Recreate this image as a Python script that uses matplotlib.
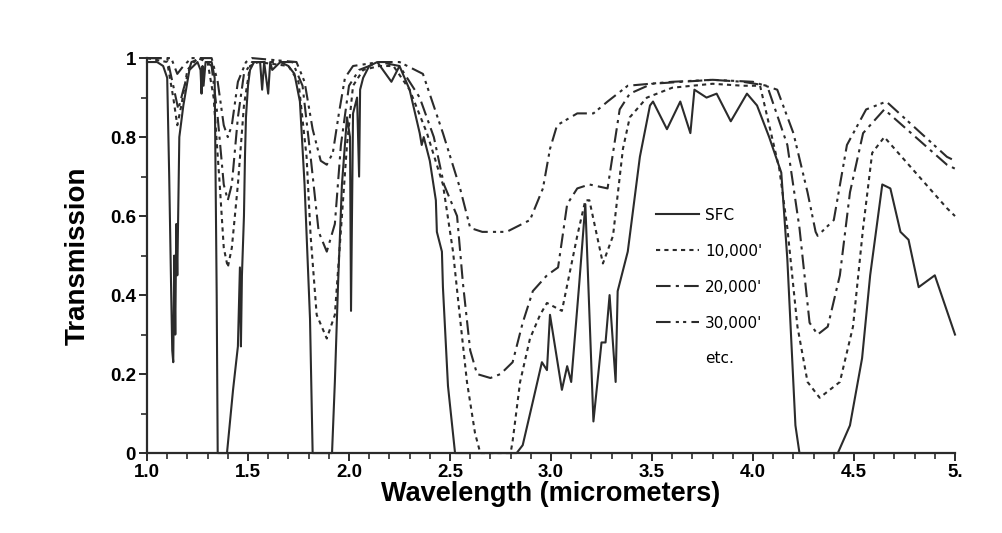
import matplotlib
matplotlib.use("Agg")
import matplotlib.pyplot as plt
from matplotlib.lines import Line2D
from matplotlib.ticker import MultipleLocator, FixedLocator, FixedFormatter

# wavelength (um) / transmission
sfc_x = [1.00, 1.05, 1.08, 1.10, 1.11, 1.12, 1.125, 1.13, 1.135, 1.14, 1.145, 1.15, 1.16, 1.18,
         1.21, 1.25, 1.265, 1.27, 1.275, 1.28, 1.29, 1.32, 1.335, 1.345, 1.35, 1.396, 1.426, 1.45,
         1.46, 1.465, 1.47, 1.48, 1.485, 1.49, 1.50, 1.51, 1.53, 1.56, 1.57, 1.58, 1.60, 1.61, 1.62,
         1.66, 1.70, 1.73, 1.757, 1.78, 1.807, 1.82, 1.916, 1.93, 1.946, 1.965, 1.99, 2.005, 2.01,
         2.02, 2.04, 2.05, 2.055, 2.07, 2.10, 2.14, 2.21, 2.25, 2.30, 2.35, 2.36, 2.37, 2.40, 2.43,
         2.435, 2.46, 2.465, 2.49, 2.525, 2.83, 2.86, 2.91, 2.955, 2.98, 2.995, 3.054, 3.08, 3.10,
         3.14, 3.17, 3.21, 3.25, 3.27, 3.29, 3.32, 3.33, 3.38, 3.44, 3.49, 3.505, 3.574, 3.64, 3.69,
         3.71, 3.77, 3.82, 3.89, 3.97, 4.02, 4.08, 4.14, 4.17, 4.21, 4.23, 4.42, 4.48, 4.54, 4.58,
         4.64, 4.68, 4.73, 4.77, 4.82, 4.90, 5.00]
sfc_y = [0.99, 0.99, 0.98, 0.95, 0.70, 0.40, 0.26, 0.23, 0.50, 0.30, 0.58, 0.45, 0.80, 0.88,
         0.97, 0.99, 0.97, 0.91, 0.98, 0.93, 0.99, 0.99, 0.95, 0.40, 0.00, 0.00, 0.16, 0.27,
         0.47, 0.27, 0.45, 0.60, 0.75, 0.85, 0.93, 0.97, 0.99, 0.99, 0.92, 0.99, 0.91, 0.99, 0.97,
         0.99, 0.98, 0.96, 0.89, 0.68, 0.34, 0.00, 0.00, 0.18, 0.43, 0.68, 0.85, 0.80, 0.36,
         0.86, 0.90, 0.70, 0.92, 0.95, 0.98, 0.99, 0.94, 0.98, 0.92, 0.81, 0.78, 0.80, 0.74, 0.64,
         0.56, 0.51, 0.42, 0.17, 0.00, 0.00, 0.02, 0.13, 0.23, 0.21, 0.35, 0.16, 0.22, 0.18,
         0.43, 0.63, 0.08, 0.28, 0.28, 0.40, 0.18, 0.41, 0.51, 0.75, 0.88, 0.89, 0.82, 0.89, 0.81,
         0.92, 0.90, 0.91, 0.84, 0.91, 0.88, 0.80, 0.71, 0.49, 0.07, 0.00, 0.00, 0.07, 0.24, 0.45,
         0.68, 0.67, 0.56, 0.54, 0.42, 0.45, 0.30]

ft10_x = [1.00, 1.10, 1.13, 1.15, 1.17, 1.20, 1.25, 1.30, 1.33, 1.36, 1.38, 1.40, 1.42, 1.45,
          1.48, 1.51, 1.55, 1.70, 1.75, 1.79, 1.81, 1.84, 1.89, 1.93, 1.965, 1.99, 2.02, 2.07,
          2.15, 2.22, 2.30, 2.386, 2.465, 2.515, 2.55, 2.584, 2.624, 2.65, 2.80, 2.81, 2.847,
          2.896, 2.946, 2.98, 3.054, 3.13, 3.17, 3.19, 3.257, 3.307, 3.356, 3.39, 3.475, 3.60,
          3.80, 3.95, 4.035, 4.13, 4.17, 4.22, 4.27, 4.33, 4.43, 4.495, 4.545, 4.59, 4.65, 4.96, 5.00]
ft10_y = [1.00, 0.99, 0.90, 0.83, 0.88, 0.97, 1.00, 0.99, 0.90, 0.68, 0.52, 0.47, 0.52, 0.68,
          0.88, 0.98, 0.99, 0.98, 0.94, 0.75, 0.55, 0.35, 0.29, 0.35, 0.60, 0.78, 0.93, 0.97,
          0.98, 0.98, 0.92, 0.81, 0.68, 0.51, 0.34, 0.18, 0.05, 0.00, 0.00, 0.03, 0.18,
          0.29, 0.35, 0.38, 0.36, 0.55, 0.64, 0.64, 0.48, 0.55, 0.77, 0.85, 0.90, 0.925,
          0.935, 0.93, 0.93, 0.72, 0.57, 0.32, 0.18, 0.14, 0.18, 0.32, 0.57, 0.76, 0.80, 0.62, 0.60]

ft20_x = [1.00, 1.10, 1.13, 1.155, 1.18, 1.22, 1.27, 1.32, 1.35, 1.38, 1.40, 1.42, 1.45, 1.48,
          1.52, 1.72, 1.77, 1.81, 1.85, 1.89, 1.93, 1.96, 2.00, 2.05, 2.15, 2.25, 2.35, 2.42,
          2.47, 2.535, 2.564, 2.60, 2.634, 2.70, 2.75, 2.81, 2.86, 2.91, 2.98, 3.035, 3.08, 3.13,
          3.19, 3.28, 3.31, 3.34, 3.39, 3.50, 3.80, 3.95, 4.07, 4.17, 4.23, 4.28, 4.32, 4.37,
          4.43, 4.48, 4.545, 4.65, 4.96, 5.00]
ft20_y = [1.00, 1.00, 0.93, 0.87, 0.92, 0.99, 1.00, 0.98, 0.85, 0.68, 0.64, 0.68, 0.85, 0.96,
          0.99, 0.99, 0.93, 0.75, 0.56, 0.51, 0.58, 0.78, 0.93, 0.97, 0.99, 0.98, 0.90, 0.80,
          0.68, 0.60, 0.43, 0.26, 0.20, 0.19, 0.20, 0.23, 0.33, 0.41, 0.45, 0.47, 0.63, 0.67,
          0.68, 0.67, 0.77, 0.87, 0.91, 0.935, 0.945, 0.94, 0.93, 0.78, 0.57, 0.33, 0.30, 0.32,
          0.45, 0.66, 0.81, 0.87, 0.73, 0.72]

ft30_x = [1.00, 1.12, 1.15, 1.18, 1.22, 1.32, 1.35, 1.38, 1.40, 1.42, 1.45, 1.49, 1.52, 1.74,
          1.78, 1.82, 1.86, 1.89, 1.92, 1.95, 1.98, 2.02, 2.15, 2.25, 2.366, 2.465, 2.55, 2.60,
          2.66, 2.78, 2.896, 2.96, 2.995, 3.03, 3.13, 3.21, 3.28, 3.38, 3.60, 3.80, 4.00, 4.12,
          4.20, 4.27, 4.31, 4.32, 4.40, 4.465, 4.56, 4.66, 4.96, 5.00]
ft30_y = [1.00, 1.00, 0.96, 0.98, 1.00, 1.00, 0.94, 0.83, 0.80, 0.83, 0.94, 0.99, 1.00, 0.99,
          0.94, 0.82, 0.74, 0.73, 0.76, 0.86, 0.95, 0.98, 0.99, 0.99, 0.96, 0.81, 0.67, 0.57,
          0.56, 0.56, 0.59, 0.67, 0.77, 0.83, 0.86, 0.86, 0.89, 0.93, 0.94, 0.945, 0.94, 0.92,
          0.81, 0.66, 0.56, 0.55, 0.59, 0.78, 0.87, 0.89, 0.75, 0.74]

labels = ["SFC", "10,000'", "20,000'", "30,000'"]
xtick_vals = [1.0, 1.5, 2.0, 2.5, 3.0, 3.5, 4.0, 4.5, 5.0]
xtick_labels = ["1.0", "1.5", "2.0", "2.5", "3.0", "3.5", "4.0", "4.5", "5."]
ytick_vals = [0, 0.2, 0.4, 0.6, 0.8, 1.0]
ytick_labels = ["0", "0.2", "0.4", "0.6", "0.8", "1"]

plt.rcParams['font.family'] = ['Liberation Sans', 'DejaVu Sans']

fig = plt.figure(figsize=(10.02, 5.33), dpi=100)
ax = fig.add_axes([0.1467, 0.150, 0.8064, 0.741])

col = '#2b2b2b'
lw = 1.5
l1, = ax.plot(sfc_x, sfc_y, color=col, lw=lw, ls='-', clip_on=False)
l2, = ax.plot(ft10_x, ft10_y, color=col, lw=lw, ls=(0, (2, 2)), clip_on=False)
l3, = ax.plot(ft20_x, ft20_y, color=col, lw=lw, ls=(0, (7, 2.5, 1.5, 2.5)), clip_on=False)
l4, = ax.plot(ft30_x, ft30_y, color=col, lw=lw, ls=(0, (7, 2.5, 1.5, 2, 1.5, 2.5)), clip_on=False)

ax.set_xlim(1.0, 5.0)
ax.set_ylim(0, 1.0)

ax.xaxis.set_major_locator(FixedLocator(xtick_vals))
ax.xaxis.set_major_formatter(FixedFormatter(xtick_labels))
ax.yaxis.set_major_locator(FixedLocator(ytick_vals))
ax.yaxis.set_major_formatter(FixedFormatter(ytick_labels))
ax.xaxis.set_minor_locator(MultipleLocator(0.1))
ax.yaxis.set_minor_locator(MultipleLocator(0.1))

for s in ['top', 'right']:
    ax.spines[s].set_visible(False)
for s in ['left', 'bottom']:
    ax.spines[s].set_linewidth(1.6)
    ax.spines[s].set_color(col)

ax.tick_params(axis='both', which='major', direction='out', length=6, width=1.4, color=col,
               labelsize=13.5, pad=2)
ax.tick_params(axis='both', which='minor', direction='out', length=4, width=1.2, color=col)
for t in ax.get_xticklabels() + ax.get_yticklabels():
    t.set_fontweight('bold')

ax.set_xlabel('Wavelength (micrometers)', fontsize=19.5, fontweight='bold', labelpad=0)
ax.set_ylabel('Transmission', fontsize=20, fontweight='bold', labelpad=14)

etc = Line2D([], [], color='none')
ax.legend([l1, l2, l3, l4, etc], labels + ['etc.'], loc='upper left',
          bbox_to_anchor=(0.613, 0.656), frameon=False, handlelength=2.8,
          labelspacing=1.37, handletextpad=0.4, borderpad=0.4,
          prop={'family': 'DejaVu Sans', 'size': 11})

fig.savefig('out.png', dpi=100)
